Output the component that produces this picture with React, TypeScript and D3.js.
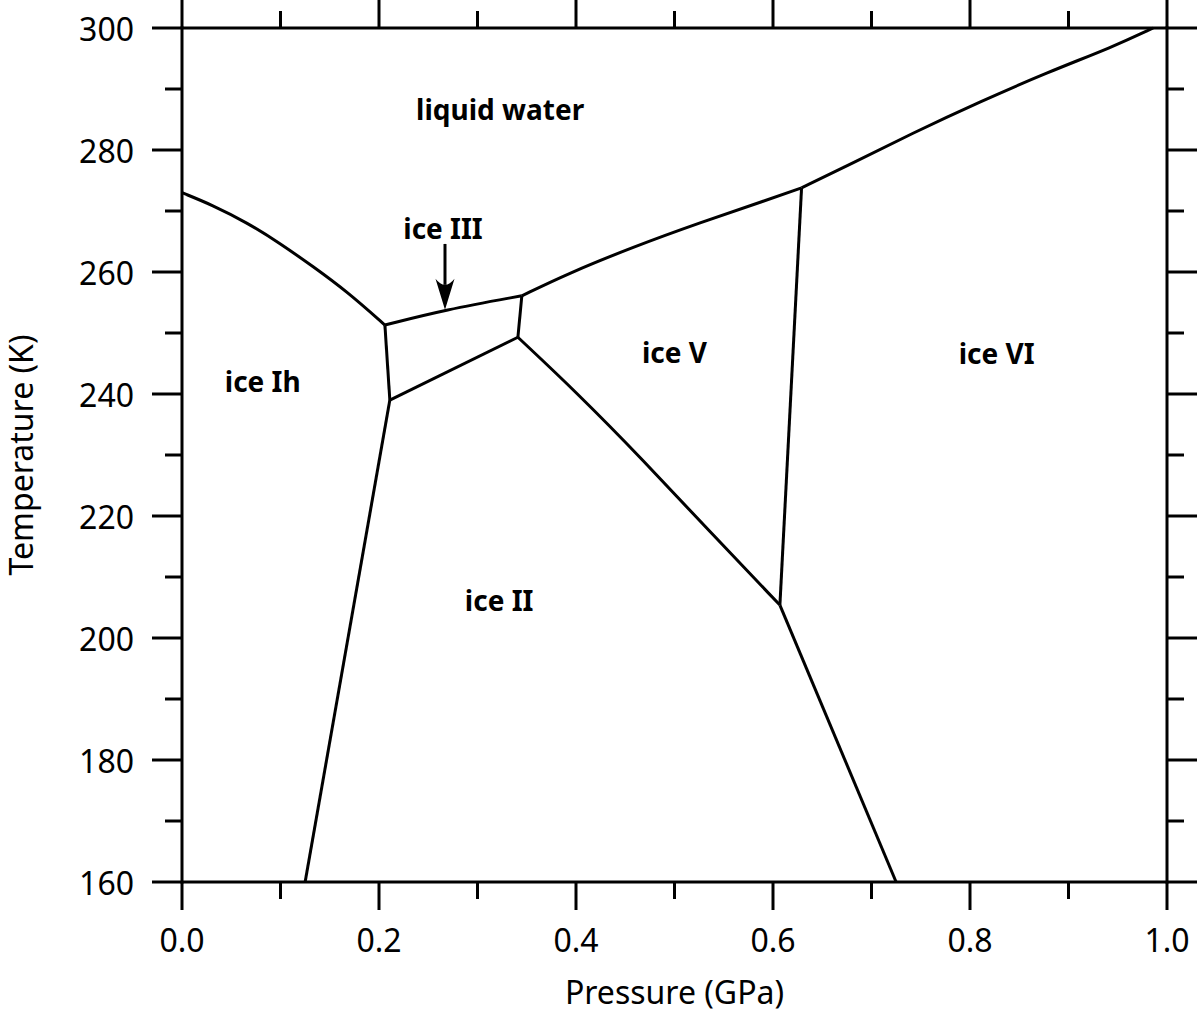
import React from "react";
import * as d3 from "d3";

// Phase boundaries: [pressure GPa, temperature K]
const meltIh: [number, number][] = [
  [0.0, 273.0], [0.0305, 271.0], [0.066, 268.1], [0.0995, 264.7],
  [0.133, 260.9], [0.1675, 256.8], [0.206, 251.3],
];
const meltIII: [number, number][] = [[0.206, 251.3], [0.267, 253.8], [0.345, 256.1]];
const meltV: [number, number][] = [
  [0.345, 256.1], [0.391, 259.7], [0.458, 264.1], [0.526, 268.1], [0.594, 271.8], [0.629, 273.8],
];
const meltVI: [number, number][] = [
  [0.629, 273.8], [0.675, 277.4], [0.742, 282.8], [0.81, 287.9], [0.878, 292.7], [0.945, 296.9], [0.986, 300.0],
];
const boundIhIII: [number, number][] = [[0.206, 251.3], [0.211, 239.0]];
const boundIIIII: [number, number][] = [[0.211, 239.0], [0.341, 249.3]];
const boundIIIV: [number, number][] = [[0.341, 249.3], [0.345, 256.1]];
const boundIhII: [number, number][] = [[0.211, 239.0], [0.125, 160.0]];
const boundIIV: [number, number][] = [
  [0.341, 249.3], [0.401, 240.2], [0.468, 229.2], [0.536, 217.4], [0.607, 205.4],
];
const boundVVI: [number, number][] = [[0.607, 205.4], [0.629, 273.8]];
const boundIIVI: [number, number][] = [[0.607, 205.4], [0.725, 160.0]];

const straightLines = [boundIhIII, boundIIIII, boundIIIV, boundIhII, boundVVI, boundIIVI];
const curvedLines = [meltIh, meltIII, meltV, meltVI, boundIIV];

const phaseLabels = ["liquid water", "ice III", "ice Ih", "ice V", "ice VI", "ice II"];
const phaseLabelP = [0.323, 0.265, 0.082, 0.5, 0.827, 0.322];
const phaseLabelT = [284.9, 265.4, 240.3, 245.1, 244.9, 204.4];

const arrowFrom: [number, number] = [0.267, 264.6];
const arrowTo: [number, number] = [0.267, 253.8];

const xMajorTicks = [0, 0.2, 0.4, 0.6, 0.8, 1.0];
const xMinorTicks = [0.1, 0.3, 0.5, 0.7, 0.9];
const yMajorTicks = [160, 180, 200, 220, 240, 260, 280, 300];
const yMinorTicks = [170, 190, 210, 230, 250, 270, 290];

const xLabel = "Pressure (GPa)";
const yLabel = "Temperature (K)";

export default function App() {
  const W = 1200, H = 1017;
  const x = d3.scaleLinear().domain([0, 1]).range([182, 1167]);
  const y = d3.scaleLinear().domain([160, 300]).range([882, 28]);
  const lineStraight = d3.line<[number, number]>().x(d => x(d[0])).y(d => y(d[1]));
  const lineCurve = d3
    .line<[number, number]>()
    .x(d => x(d[0]))
    .y(d => y(d[1]))
    .curve(d3.curveBasis);

  const [x0, x1] = x.range();
  const [y0, y1] = [y(160), y(300)];
  const majX = 28, minX = 17, majY = 30, minY = 17;
  const sw = 3;
  const font = "'Noto Sans', 'Open Sans', sans-serif";

  const ax = x(arrowFrom[0]);
  const ayFrom = y(arrowFrom[1]);
  const ayTip = y(arrowTo[1]);
  const headLen = 31;
  const headHalf = 9.5;

  return (
    <svg
      width={W}
      height={H}
      style={{ position: "absolute", left: 0, top: 0, background: "#fff" }}
      fontFamily={font}
    >
      <rect x={0} y={0} width={W} height={H} fill="#fff" />
      {/* frame */}
      <g stroke="#000" strokeWidth={sw} fill="none" strokeLinecap="butt">
        <line x1={x0} x2={x1} y1={y1} y2={y1} />
        <line x1={x0} x2={x1} y1={y0} y2={y0} />
        <line x1={x0} x2={x0} y1={y1 - 1.5} y2={y0 + 1.5} />
        <line x1={x1} x2={x1} y1={y1 - 1.5} y2={y0 + 1.5} />
        {xMajorTicks.map(t => (
          <g key={"xM" + t}>
            <line x1={x(t)} x2={x(t)} y1={y0} y2={y0 + majX} />
            <line x1={x(t)} x2={x(t)} y1={y1} y2={y1 - majX} />
          </g>
        ))}
        {xMinorTicks.map(t => (
          <g key={"xm" + t}>
            <line x1={x(t)} x2={x(t)} y1={y0} y2={y0 + minX} />
            <line x1={x(t)} x2={x(t)} y1={y1} y2={y1 - minX} />
          </g>
        ))}
        {yMajorTicks.map(t => (
          <g key={"yM" + t}>
            <line x1={x0} x2={x0 - majY} y1={y(t)} y2={y(t)} />
            <line x1={x1} x2={x1 + majY} y1={y(t)} y2={y(t)} />
          </g>
        ))}
        {yMinorTicks.map(t => (
          <g key={"ym" + t}>
            <line x1={x0} x2={x0 - minY} y1={y(t)} y2={y(t)} />
            <line x1={x1} x2={x1 + minY} y1={y(t)} y2={y(t)} />
          </g>
        ))}
      </g>
      {/* tick labels */}
      <g fontSize={32} fill="#000">
        {xMajorTicks.map(t => (
          <text key={"xl" + t} x={x(t)} y={952} textAnchor="middle">
            {d3.format(".1f")(t)}
          </text>
        ))}
        {yMajorTicks.map(t => (
          <text key={"yl" + t} x={134} y={y(t)} textAnchor="end" dominantBaseline="central">
            {t}
          </text>
        ))}
      </g>
      {/* axis titles */}
      <text x={(x0 + x1) / 2} y={1004} textAnchor="middle" fontSize={32}>
        {xLabel}
      </text>
      <text
        transform={`translate(${33}, ${(y0 + y1) / 2}) rotate(-90)`}
        textAnchor="middle"
        fontSize={32}
      >
        {yLabel}
      </text>
      {/* phase boundaries */}
      <g stroke="#000" strokeWidth={sw} fill="none" strokeLinejoin="round" strokeLinecap="butt">
        {straightLines.map((d, i) => (
          <path key={"s" + i} d={lineStraight(d) || ""} />
        ))}
        {curvedLines.map((d, i) => (
          <path key={"c" + i} d={lineCurve(d) || ""} />
        ))}
      </g>
      {/* arrow */}
      <line x1={ax} x2={ax} y1={ayFrom} y2={ayTip - headLen + 6} stroke="#000" strokeWidth={sw} />
      <path
        d={`M${ax},${ayTip} L${ax - headHalf},${ayTip - headLen} Q${ax},${ayTip - headLen + 12} ${ax + headHalf},${ayTip - headLen} Z`}
        fill="#000"
      />
      {/* phase labels */}
      <g fontSize={28} fontWeight="bold" fill="#000" textAnchor="middle">
        {phaseLabels.map((s, i) => (
          <text key={s} x={x(phaseLabelP[i])} y={y(phaseLabelT[i])}>
            {s}
          </text>
        ))}
      </g>
    </svg>
  );
}
